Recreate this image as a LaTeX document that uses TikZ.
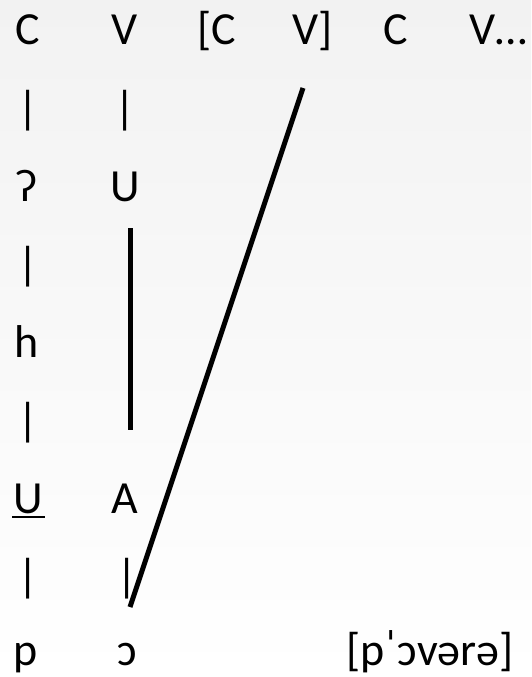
\documentclass[tikz,border=0pt]{standalone}
\usepackage{fontspec}
\setmainfont{Carlito}
\begin{document}
\begin{tikzpicture}[x=1pt,y=-1pt,
  lab/.style={inner sep=0pt,anchor=base,font=\fontsize{46}{55}\selectfont},
  thick line/.style={line width=5pt}]
\shade[top color={rgb,255:red,242;green,242;blue,242},bottom color=white] (0,0) rectangle (531,677);
\useasboundingbox (0,0) rectangle (531,677);
% row 1
\node[lab] (c1) at (27.5,45) {C};
\node[lab] (v1) at (124.5,45) {V};
\node[lab] (c2) at (217,45) {[C};
\node[lab] (v2) at (313,45) {V]};
\node[lab] (c3) at (396,45) {C};
\node[lab] (v3) at (498,45) {V…};
% row 2
\node[lab] (b21) at (28,123) {|};
\node[lab] (b22) at (125,123) {|};
% row 3
\node[lab] (gs) at (27,201) {ʔ};
\node[lab] (u1) at (125,201) {U};
% row 4
\node[lab] (b41) at (28,279) {|};
% row 5
\node[lab] (h) at (27,357) {h};
% row 6
\node[lab] (b61) at (28,435) {|};
% row 7
\node[lab] (u2) at (28,513) {U};
\draw[line width=2.5pt] (12,517) -- (45,517);
\node[lab] (a) at (125,513) {A};
% row 8
\node[lab] (b81) at (28,591) {|};
\node[lab] (b82) at (127,591) {|};
% row 9
\node[lab] (p) at (26,665) {p};
\node[lab] (o) at (127,665) {ɔ};
\node[lab] (w) at (430,665) {[pˈɔvərə]};
% lines
\coordinate (vt) at (130,228);
\coordinate (vb) at (130,430);
\coordinate (dt) at (303,88);
\coordinate (db) at (130,607);
\draw[thick line] (vt) -- (vb);
\draw[thick line] (dt) -- (db);
\end{tikzpicture}
\end{document}
